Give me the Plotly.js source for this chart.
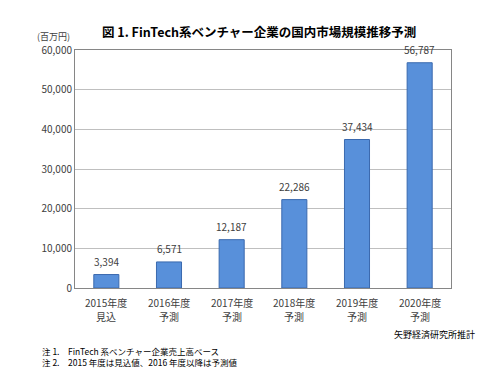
<!DOCTYPE html>
<html><head><meta charset="utf-8">
<script src="https://cdn.plot.ly/plotly-3.0.1.min.js"></script>
<style>html,body{margin:0;padding:0;background:#fff}#c{width:499px;height:382px}</style>
</head><body><div id="c"></div>
<script>
const years = ['2015年度','2016年度','2017年度','2018年度','2019年度','2020年度'];
const statuses = ['見込','予測','予測','予測','予測','予測'];
const values = [3394, 6571, 12187, 22286, 37434, 56787];
const tickVals = [0,10000,20000,30000,40000,50000,60000];
const tickText = ['0','10,000','20,000','30,000','40,000','50,000','60,000'];
const fmt = v => v.toLocaleString('en-US');
const labelFont = {family:'"Noto Sans CJK JP", "DejaVu Sans", sans-serif', size:10, color:'#404040'};
const serif = '"Noto Sans CJK JP", "Liberation Serif", serif';
const data = [{
  type:'bar', x:years, y:values,
  marker:{color:'#5890DA', line:{color:'#3A69AE', width:1}},
  width:0.4, hoverinfo:'none'
}];
const valueAnnots = years.map((c,i)=>({
  x:c, y:values[i], xref:'x', yref:'y', text:fmt(values[i]), showarrow:false,
  yanchor:'bottom', yshift:4, font:labelFont
}));
const catAnnots = years.flatMap((c,i)=>[
  {x:c, y:0, xref:'x', yref:'paper', text:c, showarrow:false, yanchor:'middle', yshift:-14, font:labelFont},
  {x:c, y:0, xref:'x', yref:'paper', text:statuses[i], showarrow:false, yanchor:'middle', yshift:-28, font:labelFont}
]);
const layout = {
  width:499, height:382,
  margin:{l:75, r:48, t:50, b:94},
  paper_bgcolor:'#fff', plot_bgcolor:'#fff',
  showlegend:false,
  xaxis:{showline:true, linecolor:'#868686', linewidth:1, mirror:true, ticks:'', showticklabels:false, fixedrange:true},
  yaxis:{range:[0,60000], tickvals:tickVals, ticktext:tickText, showgrid:true, gridcolor:'#BFBFBF', gridwidth:1,
         showline:true, linecolor:'#868686', linewidth:1, mirror:true, ticks:'', tickfont:labelFont, zeroline:false},
  annotations:valueAnnots.concat(catAnnots, [
    {text:'<b>図 1. FinTech系ベンチャー企業の国内市場規模推移予測</b>', xref:'paper', yref:'paper', x:0.49, y:1, yshift:19, xanchor:'center', yanchor:'middle', showarrow:false, font:{family:serif, size:12.5, color:'#000'}},
    {text:'(百万円)', xref:'paper', yref:'paper', x:0, xshift:-40, y:1, yshift:14, xanchor:'left', yanchor:'middle', showarrow:false, font:{family:labelFont.family, size:9, color:'#404040'}},
    {text:'矢野経済研究所推計', xref:'paper', yref:'paper', x:1, xshift:26, y:0, yshift:-46, xanchor:'right', yanchor:'middle', showarrow:false, font:{family:serif, size:9, color:'#000'}},
    {text:'注 1.　FinTech 系ベンチャー企業売上高ベース', xref:'paper', yref:'paper', x:0, xshift:-35, y:0, yshift:-63, xanchor:'left', yanchor:'middle', showarrow:false, font:{family:serif, size:8.5, color:'#000'}},
    {text:'注 2.　2015 年度は見込値、2016 年度以降は予測値', xref:'paper', yref:'paper', x:0, xshift:-35, y:0, yshift:-74, xanchor:'left', yanchor:'middle', showarrow:false, font:{family:serif, size:8.5, color:'#000'}}
  ])
};
Plotly.newPlot('c', data, layout, {displayModeBar:false, staticPlot:true});
</script></body></html>
